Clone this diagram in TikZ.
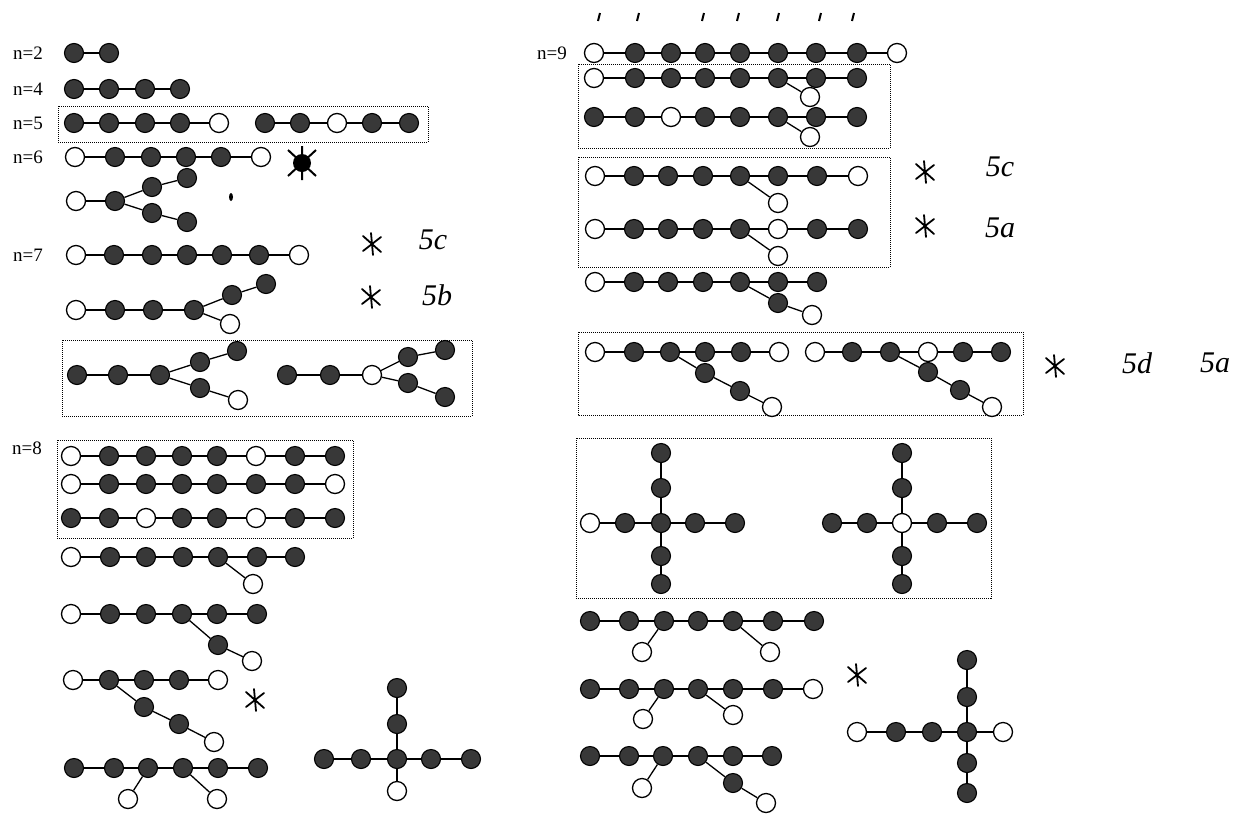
\documentclass[tikz,border=0pt]{standalone}
\usepackage{fontspec}
\setmainfont{Liberation Serif}
\newcommand{\vchain}[3]{%
  \foreach \x/\t [count=\i] in {#3} {
    \node[\t] (#1\i) at (\x,#2) {};
    \ifnum\i>1 \pgfmathtruncatemacro{\j}{\i-1}\draw (#1\j) -- (#1\i);\fi
  }}
\newcommand{\vbranch}[3]{%
  \foreach \x/\y/\t [count=\i] in {#3} {
    \node[\t] (#2\i) at (\x,\y) {};
    \ifnum\i=1 \draw (#1) -- (#2\i);\else \pgfmathtruncatemacro{\j}{\i-1}\draw (#2\j) -- (#2\i);\fi
  }}

\begin{document}
\begin{tikzpicture}[x=1pt,y=-1pt,line width=1.3pt,
  bv/.style={circle,draw=black,fill=black!78,line width=1.1pt,minimum size=19pt,inner sep=0pt},
  wv/.style={circle,draw=black,fill=white,line width=1.3pt,minimum size=19pt,inner sep=0pt},
  gbox/.style={densely dotted,line width=1pt},
  nlabel/.style={font=\fontsize{19}{19}\selectfont},
  hand/.style={font=\fontsize{30}{30}\selectfont\itshape},
  asterisk/.pic={\draw[line width=1.8pt,line cap=round] (-9,-8) -- (9,8) (-9,7) -- (9,-7) (-1,-11) -- (1,11);}]
  \useasboundingbox (0,0) rectangle (1251,815);

  % left column
  \node[nlabel] (n2) at (28,53) {n=2};
  \node[nlabel] (n4) at (28,89) {n=4};
  \node[nlabel] (n5) at (28,123) {n=5};
  \node[nlabel] (n6) at (28,157) {n=6};
  \node[nlabel] (n7) at (28,255) {n=7};
  \node[nlabel] (n8) at (27,448) {n=8};
  \vchain{a}{53}{74/bv,109/bv}
  \vchain{b}{89}{74/bv,109/bv,145/bv,180/bv}
  \draw[gbox] (58,106) rectangle (428,142);
  \vchain{c}{123}{74/bv,109/bv,145/bv,180/bv,219/wv}
  \vchain{d}{123}{265/bv,300/bv,337/wv,372/bv,409/bv}
  \vchain{e}{157}{75/wv,115/bv,151/bv,186/bv,221/bv,261/wv}
  \fill (302,163) circle (9);
  \draw[line width=2pt] (288,150) -- (316,176) (288,176) -- (316,150) (302,146) -- (302,180);
  \vchain{f}{201}{76/wv,115/bv}
  \vbranch{f2}{fu}{152/187/bv,187/178/bv}
  \vbranch{f2}{fd}{152/213/bv,187/222/bv}
  \fill (231,197) ellipse (2 and 4);

  \vchain{g}{255}{76/wv,114/bv,152/bv,187/bv,222/bv,259/bv,299/wv}
  \pic at (372,244) {asterisk};
  \node[hand] (m5c) at (433,240) {5c};
  \vchain{h}{310}{76/wv,115/bv,153/bv,194/bv}
  \vbranch{h4}{hu}{232/295/bv,266/284/bv}
  \vbranch{h4}{hd}{230/324/wv}
  \pic at (371,297) {asterisk};
  \node[hand] (m5b) at (437,295) {5b};
  \draw[gbox] (62,340) rectangle (472,416);
  \vchain{i}{375}{77/bv,118/bv,160/bv}
  \vbranch{i3}{iu}{200/362/bv,237/351/bv}
  \vbranch{i3}{id}{200/388/bv,238/400/wv}
  \vchain{j}{375}{287/bv,330/bv,372/wv}
  \vbranch{j3}{ju}{408/357/bv,445/350/bv}
  \vbranch{j3}{jd}{408/383/bv,445/397/bv}

  \draw[gbox] (57,440) rectangle (353,538);
  \vchain{k}{456}{71/wv,109/bv,146/bv,182/bv,217/bv,256/wv,295/bv,335/bv}
  \vchain{l}{484}{71/wv,109/bv,146/bv,182/bv,217/bv,256/bv,295/bv,335/wv}
  \vchain{m}{518}{71/bv,109/bv,146/wv,182/bv,217/bv,256/wv,295/bv,335/bv}
  \vchain{n}{557}{71/wv,110/bv,146/bv,183/bv,218/bv,257/bv,295/bv}
  \vbranch{n5}{nd}{253/584/wv}
  \vchain{o}{614}{71/wv,110/bv,146/bv,182/bv,217/bv,257/bv}
  \vbranch{o4}{od}{218/645/bv,252/661/wv}
  \vchain{p}{680}{73/wv,109/bv,144/bv,179/bv,218/wv}
  \vbranch{p2}{pd}{144/707/bv,179/724/bv,214/742/wv}
  \pic at (255,700) {asterisk};
  \vchain{q}{768}{74/bv,114/bv,148/bv,183/bv,218/bv,258/bv}
  \vbranch{q3}{ql}{128/799/wv}
  \vbranch{q4}{qr}{217/799/wv}
  \node[bv] (r0) at (397,759) {};
  \vbranch{r0}{ru}{397/724/bv,397/688/bv}
  \vbranch{r0}{rl}{361/759/bv,324/759/bv}
  \vbranch{r0}{rr}{431/759/bv,471/759/bv}
  \vbranch{r0}{rd}{397/791/wv}

  % right column
  \foreach \x in {599,638,703,738,778,820,853}
    \draw[line width=2pt] (\x+1,13) -- (\x-1,21);
  \node[nlabel] (n9) at (552,53) {n=9};
  \vchain{s}{53}{594/wv,635/bv,671/bv,705/bv,740/bv,778/bv,816/bv,857/bv,897/wv}
  \draw[gbox] (578,64) rectangle (890,148);
  \vchain{t}{78}{594/wv,635/bv,671/bv,705/bv,740/bv,778/bv,816/bv,857/bv}
  \vbranch{t6}{td}{810/97/wv}
  \vchain{u}{117}{594/bv,635/bv,671/wv,705/bv,740/bv,778/bv,816/bv,857/bv}
  \vbranch{u6}{ud}{810/137/wv}
  \draw[gbox] (578,157) rectangle (890,267);
  \vchain{v}{176}{595/wv,634/bv,668/bv,703/bv,740/bv,778/bv,817/bv,858/wv}
  \vbranch{v5}{vd}{778/203/wv}
  \vchain{w}{229}{595/wv,634/bv,668/bv,703/bv,740/bv,778/wv,817/bv,858/bv}
  \vbranch{w5}{wd}{778/256/wv}
  \pic at (925,172) {asterisk};
  \node[hand] (m5c2) at (1000,167) {5c};
  \pic at (925,226) {asterisk};
  \node[hand] (m5a) at (1000,228) {5a};
  \vchain{x}{282}{595/wv,634/bv,668/bv,703/bv,740/bv,778/bv,817/bv}
  \vbranch{x5}{xd}{778/303/bv,812/315/wv}
  \draw[gbox] (578,332) rectangle (1023,415);
  \vchain{ya}{352}{595/wv,634/bv,670/bv,705/bv,741/bv,779/wv}
  \vbranch{ya3}{yad}{705/373/bv,740/391/bv,772/407/wv}
  \vchain{yb}{352}{815/wv,852/bv,890/bv,928/wv,963/bv,1001/bv}
  \vbranch{yb3}{ybd}{928/372/bv,960/390/bv,992/407/wv}
  \pic at (1055,366) {asterisk};
  \node[hand] (m5d) at (1137,363) {5d};
  \node[hand] (m5a2) at (1215,363) {5a};
  \draw[gbox] (576,438) rectangle (991,598);
  \node[bv] (za) at (661,523) {};
  \vbranch{za}{zau}{661/488/bv,661/453/bv}
  \vbranch{za}{zad}{661/556/bv,661/584/bv}
  \vbranch{za}{zal}{625/523/bv,590/523/wv}
  \vbranch{za}{zar}{695/523/bv,735/523/bv}
  \node[wv] (zb) at (902,523) {};
  \vbranch{zb}{zbu}{902/488/bv,902/453/bv}
  \vbranch{zb}{zbd}{902/556/bv,902/584/bv}
  \vbranch{zb}{zbl}{867/523/bv,832/523/bv}
  \vbranch{zb}{zbr}{937/523/bv,977/523/bv}
  \vchain{fa}{621}{590/bv,629/bv,664/bv,698/bv,733/bv,773/bv,814/bv}
  \vbranch{fa3}{fal}{642/652/wv}
  \vbranch{fa5}{far}{770/652/wv}
  \vchain{ga}{689}{590/bv,629/bv,664/bv,698/bv,733/bv,773/bv,813/wv}
  \vbranch{ga3}{gal}{643/719/wv}
  \vbranch{ga4}{gar}{733/715/wv}
  \vchain{ha}{756}{590/bv,629/bv,663/bv,698/bv,733/bv,772/bv}
  \vbranch{ha3}{hal}{642/788/wv}
  \vbranch{ha4}{har}{733/783/bv,766/803/wv}
  \pic at (857,675) {asterisk};
  \node[bv] (zc) at (967,732) {};
  \vbranch{zc}{zcu}{967/697/bv,967/660/bv}
  \vbranch{zc}{zcd}{967/763/bv,967/793/bv}
  \vbranch{zc}{zcl}{932/732/bv,896/732/bv,857/732/wv}
  \vbranch{zc}{zcr}{1003/732/wv}
\end{tikzpicture}
\end{document}
